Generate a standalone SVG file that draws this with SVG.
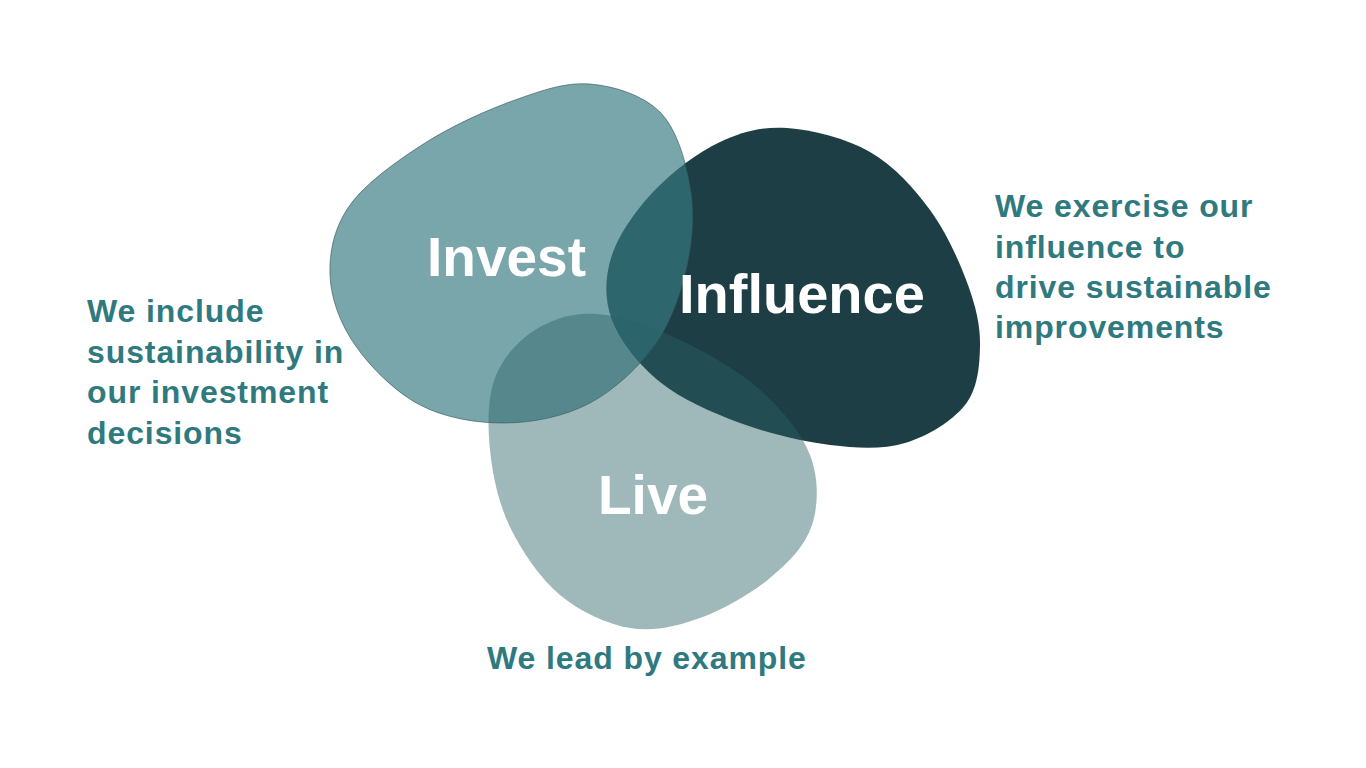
<svg xmlns="http://www.w3.org/2000/svg" width="1366" height="768" viewBox="0 0 1366 768">
  <style>
    .title { font-family: "Liberation Sans", Arial, sans-serif; font-weight: bold; font-size: 55px; fill: #ffffff; }
    .desc { font-family: "Liberation Sans", Arial, sans-serif; font-weight: bold; font-size: 32px; fill: #2F7A7F; letter-spacing: 0.9px; }
    .influence { fill: #1D3E44; }
    .invest { fill: #357B82; fill-opacity: 0.67; stroke: #2B4A4E; stroke-width: 0.8; stroke-opacity: 0.7; }
    .live { fill: #2A6266; fill-opacity: 0.45; }
  </style>
  <rect width="1366" height="768" fill="#ffffff"/>

  <g id="node-influence">
    <path class="influence" d="M787,128 C812,129.7 846.2,138.3 870,152 C893.8,165.7 913.7,187.8 930,210 C946.3,232.2 959.7,262.2 968,285 C976.3,307.8 980.5,327 980,347 C979.5,367 977.5,389 965,405 C952.5,421 927.5,436.3 905,443 C882.5,449.7 857.5,448.3 830,445 C802.5,441.7 768.3,433.5 740,423 C711.7,412.5 681.3,399.2 660,382 C638.7,364.8 620,341.2 612,320 C604,298.8 604.8,276.7 612,255 C619.2,233.3 637,208.8 655,190 C673,171.2 698,152.3 720,142 C742,131.7 762,126.3 787,128 Z"/>
    <text class="desc" x="995" y="217">We exercise our</text>
    <text class="desc" x="995" y="258">influence to</text>
    <text class="desc" x="995" y="298">drive sustainable</text>
    <text class="desc" x="995" y="338">improvements</text>
  </g>

  <g id="node-invest">
    <path class="invest" d="M590,84 C614.2,86 643.3,95.2 660,112 C676.7,128.8 685.3,160 690,185 C694.7,210 693.5,235.8 688,262 C682.5,288.2 673.3,318.5 657,342 C640.7,365.5 615.3,389.5 590,403 C564.7,416.5 533.3,422.7 505,423 C476.7,423.3 445,418 420,405 C395,392 370,366.7 355,345 C340,323.3 330.8,298.3 330,275 C329.2,251.7 334.2,227 350,205 C365.8,183 397.5,160.5 425,143 C452.5,125.5 487.5,109.8 515,100 C542.5,90.2 565.8,82 590,84 Z"/>
    <text class="desc" x="87" y="322">We include</text>
    <text class="desc" x="87" y="363">sustainability in</text>
    <text class="desc" x="87" y="403">our investment</text>
    <text class="desc" x="87" y="444">decisions</text>
  </g>

  <g id="node-live">
    <path class="live" d="M597,314 C621.2,315.7 652.8,327.3 680,340 C707.2,352.7 738.3,370.8 760,390 C781.7,409.2 801.3,432.5 810,455 C818.7,477.5 818.7,504.5 812,525 C805.3,545.5 788.7,562.5 770,578 C751.3,593.5 723.3,609.7 700,618 C676.7,626.3 653.3,631.8 630,628 C606.7,624.2 580,611.8 560,595 C540,578.2 521.7,551.2 510,527 C498.3,502.8 492.5,474.8 490,450 C487.5,425.2 487.5,398 495,378 C502.5,358 518,340.7 535,330 C552,319.3 572.8,312.3 597,314 Z"/>
    <text class="desc" x="487" y="669">We lead by example</text>
  </g>

  <g id="connectors"/>

  <g id="labels">
    <text class="title" x="427" y="276">Invest</text>
    <text class="title" x="679" y="313" style="font-size:56px">Influence</text>
    <text class="title" x="598" y="514">Live</text>
  </g>
</svg>
